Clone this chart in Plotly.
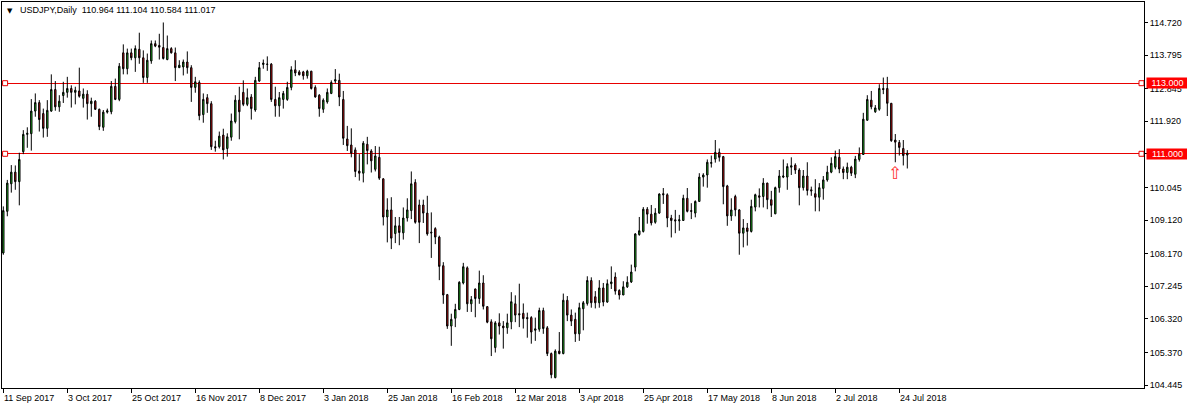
import plotly.graph_objects as go

# ---- data (USDJPY daily) ----
opens = [108.19,109.37,110.15,110.48,110.21,111.06,111.55,111.57,112.21,112.45,
112.14,111.72,112.21,112.82,112.33,112.65,112.74,112.85,112.74,112.78,
112.57,112.69,112.42,112.49,112.26,111.75,112.18,112.19,112.91,112.54,
113.86,113.41,113.86,113.72,113.96,113.72,113.16,113.63,114.12,114.07,
114.01,113.67,113.98,113.86,113.44,113.46,113.60,113.44,112.88,113.02,
112.11,112.59,112.42,111.20,111.20,111.53,111.15,111.47,111.91,112.52,
112.74,112.40,112.61,112.24,113.06,113.53,113.53,113.54,112.54,112.36,
112.54,112.54,112.88,113.38,113.32,113.32,113.21,113.34,112.88,112.66,
112.26,112.47,112.71,113.06,113.08,112.54,111.42,111.25,111.11,110.51,
110.45,111.27,111.08,110.56,110.90,110.29,109.21,109.41,108.74,108.96,
108.76,109.18,109.39,110.19,109.55,109.55,109.32,108.78,108.88,108.64,
107.83,107.01,106.12,106.34,106.59,107.34,107.77,106.75,107.17,106.90,
107.34,106.67,106.24,105.51,106.21,106.12,106.07,106.24,106.75,106.47,
106.48,106.36,106.36,106.00,106.03,106.56,106.07,105.34,104.66,105.41,
105.34,106.85,106.43,106.31,105.90,106.61,106.76,107.41,106.95,106.78,
107.20,106.80,107.32,107.51,107.13,107.00,107.23,107.37,107.79,108.71,
108.80,109.43,109.29,109.06,109.32,109.87,109.84,109.18,109.13,109.10,
109.11,109.74,109.39,109.32,109.65,110.34,110.40,110.73,110.85,111.04,
110.92,110.09,109.24,109.79,109.41,108.75,108.90,108.80,109.49,109.81,
109.79,110.17,109.70,109.30,110.04,110.34,110.34,110.62,110.68,110.54,
110.04,110.37,109.98,109.87,109.77,110.02,110.26,110.48,110.62,110.90,
110.57,110.47,110.62,110.42,110.84,110.98,111.95,112.52,112.19,112.26,
112.85,112.85,112.43,111.39,111.32,111.15,110.964]
highs = [109.51,110.26,110.68,110.67,111.03,111.67,111.75,112.55,112.71,112.52,
112.28,112.52,113.25,113.06,112.66,113.04,113.18,112.94,112.90,113.44,
112.85,112.80,112.59,112.52,112.28,112.24,112.28,113.06,113.13,113.57,
114.10,113.98,113.98,114.07,114.43,113.93,113.84,114.21,114.21,114.40,
114.72,114.35,114.02,114.01,113.65,113.67,113.90,113.51,113.18,113.08,
112.71,112.69,112.49,111.37,111.63,111.71,111.58,112.14,112.66,112.90,
113.08,112.85,112.69,113.18,113.60,113.67,113.76,113.57,112.90,112.75,
112.78,113.04,113.48,113.65,113.37,113.35,113.38,113.35,112.94,112.69,
112.57,112.85,113.08,113.40,113.27,112.78,111.79,111.72,111.18,110.99,
111.36,111.48,111.13,111.22,111.20,110.31,109.74,109.77,109.21,109.21,
109.48,109.74,110.50,110.28,109.70,109.70,109.81,109.34,108.92,108.68,
107.93,107.03,106.47,106.75,107.39,107.91,107.81,106.97,107.18,107.69,
107.56,106.68,106.31,106.26,106.48,106.26,106.47,107.08,106.99,107.32,
106.76,106.50,106.40,106.36,106.64,106.64,106.12,105.37,105.46,105.95,
107.04,106.97,106.59,106.50,106.78,106.83,107.53,107.50,107.11,107.42,
107.34,107.44,107.81,107.64,107.16,107.39,107.53,107.86,108.75,109.21,
109.49,109.49,109.55,109.46,109.88,110.03,109.88,109.27,109.41,109.27,
109.84,110.03,109.60,109.68,110.45,110.45,110.84,110.95,111.39,111.15,
110.94,110.12,109.74,109.84,109.43,109.15,109.04,109.70,109.87,110.02,
110.31,110.18,109.95,110.07,110.54,110.84,110.73,110.90,110.73,110.59,
110.54,110.76,110.07,110.28,110.17,110.37,110.66,110.90,111.09,111.13,
110.64,110.75,110.66,110.94,111.18,112.16,112.66,112.78,112.38,112.97,
113.16,113.18,112.44,111.56,111.39,111.39,111.104]
lows = [108.14,109.23,109.90,109.98,109.54,110.99,111.17,111.09,112.05,111.63,
111.46,111.48,112.19,112.22,112.19,112.44,112.59,112.31,112.40,112.59,
112.31,111.97,112.05,112.24,111.67,111.65,112.14,112.12,112.52,112.49,
113.25,113.25,113.65,113.32,113.55,113.01,113.01,113.55,114.02,113.67,
113.67,113.65,113.84,113.06,113.43,113.22,113.27,112.47,112.73,111.95,
111.88,112.16,111.11,111.06,111.15,110.84,110.92,111.37,111.86,111.41,
112.35,112.35,111.97,112.19,113.04,113.41,113.35,112.47,112.05,112.05,
112.28,112.50,112.80,113.20,113.22,113.10,113.13,112.82,112.59,112.05,
112.16,112.42,112.69,112.99,112.35,111.25,111.08,110.90,110.34,110.24,
110.19,110.70,110.47,110.50,110.26,108.97,108.49,108.30,108.47,108.41,
108.57,109.08,109.15,109.02,108.47,109.04,108.68,108.05,108.44,107.42,
106.75,106.04,105.56,106.09,106.57,107.30,106.52,106.52,106.37,106.75,
106.59,106.20,105.27,105.37,105.88,105.48,105.90,106.03,106.23,106.09,
106.05,105.79,105.62,105.70,105.96,105.90,105.27,104.64,104.64,105.32,
105.32,106.26,106.12,105.67,105.70,106.00,106.70,106.64,106.62,106.64,
106.68,106.78,107.17,107.01,106.87,107.00,107.20,107.34,107.67,108.68,
108.77,109.02,108.97,109.02,109.30,109.58,108.92,108.63,108.75,108.82,
109.10,109.34,109.15,109.20,109.65,110.07,110.04,110.61,110.75,110.78,
109.57,108.96,109.10,109.23,108.14,108.35,108.40,108.77,109.37,109.48,
109.48,109.43,109.21,109.29,109.90,110.31,109.98,110.40,110.43,109.54,
109.96,109.82,109.81,109.37,109.37,109.70,110.21,110.45,110.56,110.45,
110.28,110.28,110.37,110.31,110.78,110.97,111.94,112.26,112.16,112.22,
112.69,112.07,111.34,110.76,110.95,110.67,110.584]
closes = [109.39,110.17,110.48,110.21,110.84,111.55,111.58,112.21,112.45,111.97,
111.72,112.23,112.82,112.33,112.49,112.74,112.85,112.74,112.80,112.63,
112.69,112.42,112.49,112.26,111.77,112.18,112.22,112.91,112.54,113.48,
113.41,113.86,113.72,113.98,113.72,113.16,113.65,114.12,114.05,114.02,
113.70,113.98,113.86,113.44,113.51,113.60,113.44,112.88,113.04,112.08,
112.54,112.42,111.20,111.17,111.50,111.11,111.48,111.93,112.52,112.19,
112.40,112.59,112.28,113.08,113.44,113.57,113.54,112.54,112.36,112.59,
112.71,112.88,113.38,113.29,113.24,113.21,113.34,112.85,112.61,112.28,
112.52,112.74,113.02,113.10,112.61,111.44,111.23,111.02,110.50,110.45,
111.30,111.09,110.80,110.94,110.31,109.21,109.41,108.61,108.96,108.77,
109.18,109.41,110.15,109.06,109.06,109.32,108.73,108.76,108.64,107.81,
107.00,106.12,106.31,106.59,107.36,107.80,106.75,106.87,106.90,107.34,
106.68,106.23,105.76,106.21,106.12,106.07,106.21,106.81,106.43,106.44,
106.33,106.33,105.95,106.04,106.56,106.05,105.34,104.74,105.41,105.34,
106.85,106.43,106.26,105.90,106.64,106.78,107.41,106.78,106.78,107.20,
106.80,107.32,107.37,107.11,107.00,107.23,107.36,107.65,108.73,108.82,
109.43,109.29,109.04,109.32,109.86,109.84,109.18,109.11,109.10,109.13,
109.74,109.37,109.37,109.65,110.34,110.40,110.76,110.75,111.04,110.90,
110.07,109.24,109.41,109.41,108.75,108.90,108.80,109.51,109.84,109.77,
110.17,109.70,109.54,110.04,110.37,110.37,110.64,110.66,110.54,110.04,
110.37,109.96,109.95,109.77,110.04,110.26,110.48,110.73,110.92,110.57,
110.47,110.62,110.45,110.85,110.99,111.98,112.54,112.33,112.30,112.85,
112.82,112.43,111.37,111.33,111.18,110.95,111.017]

tick_index = [0, 16, 32, 48, 64, 80, 96, 112, 128, 144, 160, 176, 192, 208, 224]
tick_labels = ["11 Sep 2017", "3 Oct 2017", "25 Oct 2017", "16 Nov 2017", "8 Dec 2017",
               "3 Jan 2018", "25 Jan 2018", "16 Feb 2018", "12 Mar 2018", "3 Apr 2018",
               "25 Apr 2018", "17 May 2018", "8 Jun 2018", "2 Jul 2018", "24 Jul 2018"]
price_ticks = [114.720, 113.795, 112.845, 111.920, 110.995, 110.045, 109.120,
               108.170, 107.245, 106.320, 105.370, 104.445]
levels = [113.000, 111.000]
arrow_bar = 223
arrow_price = 110.46
title_text = "USDJPY,Daily\u00a0\u00a0110.964 111.104 110.584 111.017"

FONT = "Liberation Sans, Arial, sans-serif"
GREEN = "#22cc22"
RED = "#e01010"
LEVEL_RED = "#e80000"
Y_RANGE = [104.365, 115.300]

idx = list(range(len(opens)))

fig = go.Figure()
fig.add_trace(go.Candlestick(
    x=idx, open=opens, high=highs, low=lows, close=closes,
    increasing=dict(line=dict(color="black", width=1), fillcolor=GREEN),
    decreasing=dict(line=dict(color="black", width=1), fillcolor=RED),
    whiskerwidth=0, hoverinfo="skip", showlegend=False,
))

# small square handles at the ends of the level lines (on the overlay axis
# whose gridlines draw the level lines crisply)
fig.add_trace(go.Scatter(
    x=[0.45, 284.55] * len(levels),
    y=[lv for lv in levels for _ in range(2)],
    yaxis="y2",
    mode="markers",
    marker=dict(symbol="square", size=5, color="white", line=dict(color=LEVEL_RED, width=1)),
    hoverinfo="skip", showlegend=False, cliponaxis=False,
))

annotations = []
# x date labels, left aligned at tick
for ti, tl in zip(tick_index, tick_labels):
    annotations.append(dict(x=ti, xref="x", y=0, yref="paper", text=tl, showarrow=False,
                            xanchor="left", yanchor="top", xshift=-1, yshift=-3,
                            font=dict(family=FONT, size=9, color="black")))
# level price labels
for lv in levels:
    annotations.append(dict(x=1, xref="paper", y=lv, yref="y", text=f"{lv:.3f}",
                            showarrow=False, xanchor="left", yanchor="middle", xshift=2,
                            bgcolor="#ff0000", borderpad=0, width=41, height=10,
                            font=dict(family=FONT, size=9, color="white")))
# title
annotations.append(dict(x=0, xref="paper", y=1, yref="paper", text="\u25BC",
                        showarrow=False, xanchor="left", yanchor="top", xshift=3, yshift=-3,
                        font=dict(family="DejaVu Sans", size=7, color="black")))
annotations.append(dict(x=0, xref="paper", y=1, yref="paper", text=title_text,
                        showarrow=False, xanchor="left", yanchor="top", xshift=16, yshift=-1,
                        font=dict(family=FONT, size=9, color="black")))
# arrow
annotations.append(dict(x=arrow_bar, xref="x", y=arrow_price, yref="y", text="\u21E7",
                        showarrow=False, xanchor="center", yanchor="middle",
                        font=dict(family="DejaVu Sans", size=17, color="#ff3030")))

fig.update_layout(
    width=1187, height=409,
    margin=dict(l=2, r=43, t=2, b=21, pad=0),
    paper_bgcolor="white", plot_bgcolor="white",
    boxgap=0.5,
    showlegend=False,
    annotations=annotations,
    font=dict(family=FONT, size=9, color="black"),
    xaxis=dict(
        range=[-0.325, 285.175], rangeslider=dict(visible=False),
        showgrid=False, zeroline=False,
        showline=True, linecolor="black", linewidth=1, mirror=True,
        tickmode="array", tickvals=tick_index, ticktext=[""] * len(tick_index),
        ticks="outside", ticklen=4, tickcolor="black", tickwidth=1,
    ),
    yaxis=dict(
        range=Y_RANGE, side="right",
        showgrid=False, zeroline=False,
        showline=True, linecolor="black", linewidth=1, mirror=True,
        tickmode="array", tickvals=price_ticks,
        ticktext=[f"{v:.3f}" for v in price_ticks],
        ticks="outside", ticklen=3, tickcolor="black", tickwidth=1,
        tickfont=dict(family=FONT, size=9, color="black"),
    ),
    yaxis2=dict(
        range=Y_RANGE, overlaying="y", side="right",
        tickmode="array", tickvals=levels, showticklabels=False, ticks="",
        showgrid=True, gridcolor=LEVEL_RED, gridwidth=1,
        zeroline=False, showline=False,
    ),
)

fig.write_html("out.html")
